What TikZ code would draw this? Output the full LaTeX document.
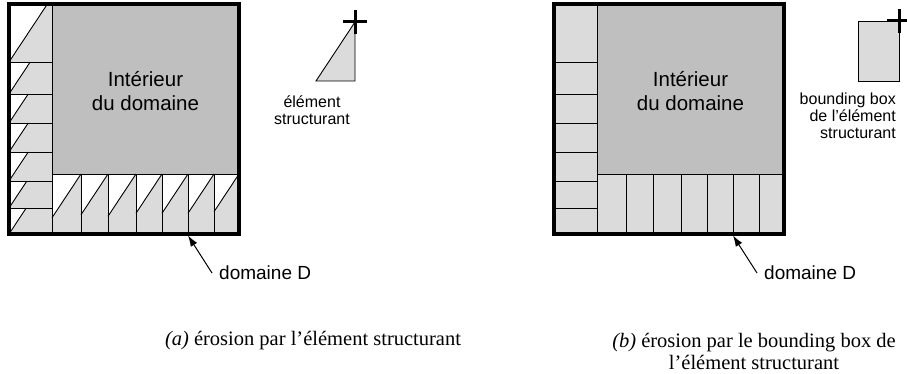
\documentclass[tikz,border=0pt]{standalone}
\usepackage{fontspec}
\setmainfont{Liberation Serif}
\newfontfamily\arial{Liberation Sans}
\usetikzlibrary{arrows.meta}
\definecolor{fondgris}{gray}{0.75}
\definecolor{cellgris}{gray}{0.86}

\begin{document}
\begin{tikzpicture}[
    x=1pt, y=-1pt,
    every node/.style={font=\arial\fontsize{19}{23}\selectfont, align=center},
    cadre/.style={line width=3.2pt},
    trait/.style={line width=0.9pt},
    croix/.style={line width=3pt},
    fleche/.style={line width=1pt, -{Latex[length=11pt,width=7.5pt]}},
    interieur/.style={font=\arial\fontsize{20.5}{24}\selectfont},
    legende/.style={font=\arial\fontsize{16}{17}\selectfont, inner sep=0pt},
    titre/.style={font=\fontsize{20.5}{21.5}\selectfont, inner sep=0pt}
]
\useasboundingbox (0,0) rectangle (907,374);

% (a) erosion par l'element structurant
\begin{scope}[shift={(9,4)}]
  \fill[fondgris] (43,0) rectangle (230,170);
  \foreach \ya/\yb in {0/58, 58/90, 90/119, 119/148, 148/177, 177/204, 204/230} {
    \pgfmathsetmacro\dx{(\yb-\ya)/1.51}
    \fill[cellgris] (0,\yb) -- (\dx,\ya) -- (43,\ya) -- (43,\yb) -- cycle;
    \draw[trait] (0,\ya) rectangle (43,\yb);
    \draw[trait] (0,\yb) -- (\dx,\ya);
  }
  \foreach \xa/\xb in {43/72, 72/99, 99/127, 127/153, 153/179, 179/205, 205/230} {
    \pgfmathsetmacro\dy{170+1.51*(\xb-\xa)}
    \fill[cellgris] (\xa,\dy) -- (\xb,170) -- (\xb,230) -- (\xa,230) -- cycle;
    \draw[trait] (\xa,170) rectangle (\xb,230);
    \draw[trait] (\xa,\dy) -- (\xb,170);
  }
  \draw[cadre] (0,0) rectangle (230,230);
  \node[interieur] (intA) at (136.5,87) {Intérieur\\du domaine};
  \coordinate (pointeA) at (179,231.5);
  \node[anchor=west, inner xsep=7pt, inner ysep=0pt] (domA) at (203,269) {domaine D};
  \draw[fleche] (domA.west) -- (pointeA);
\end{scope}

\coordinate (refA) at (355,22);
\fill[cellgris] (316,81) -- (355,81) -- (refA) -- cycle;
\draw[trait] (316,81) -- (355,81) -- (refA) -- cycle;
\draw[croix] (refA) ++(-12,0) -- ++(24,0) (refA) ++(0,-12) -- ++(0,24);
\node[legende] (elemA) at (312,110) {élément\\structurant};

% (b) erosion par le bounding box
\begin{scope}[shift={(554,4)}]
  \fill[fondgris] (43,0) rectangle (230,170);
  \foreach \ya/\yb in {0/58, 58/90, 90/119, 119/148, 148/177, 177/204, 204/230}
    \draw[trait, fill=cellgris] (0,\ya) rectangle (43,\yb);
  \foreach \xa/\xb in {43/72, 72/99, 99/127, 127/153, 153/179, 179/205, 205/230}
    \draw[trait, fill=cellgris] (\xa,170) rectangle (\xb,230);
  \draw[cadre] (0,0) rectangle (230,230);
  \node[interieur] (intB) at (136.5,87) {Intérieur\\du domaine};
  \coordinate (pointeB) at (179,231.5);
  \node[anchor=west, inner xsep=7pt, inner ysep=0pt] (domB) at (203,269) {domaine D};
  \draw[fleche] (domB.west) -- (pointeB);
\end{scope}

\coordinate (refB) at (899,21);
\draw[trait, fill=cellgris] (858,81) rectangle (refB);
\draw[croix] (refB) ++(-12,0) -- ++(24,0) (refB) ++(0,-12) -- ++(0,24);
\node[legende, anchor=east, align=right] (elemB) at (896,116) {bounding box\\de l’élément\\structurant};

\node[titre] (legA) at (313,341) {\textit{(a)} érosion par l’élément structurant};
\node[titre] (legB) at (754,351.5) {\textit{(b)} érosion par le bounding box de\\l’élément structurant};
\end{tikzpicture}
\end{document}
